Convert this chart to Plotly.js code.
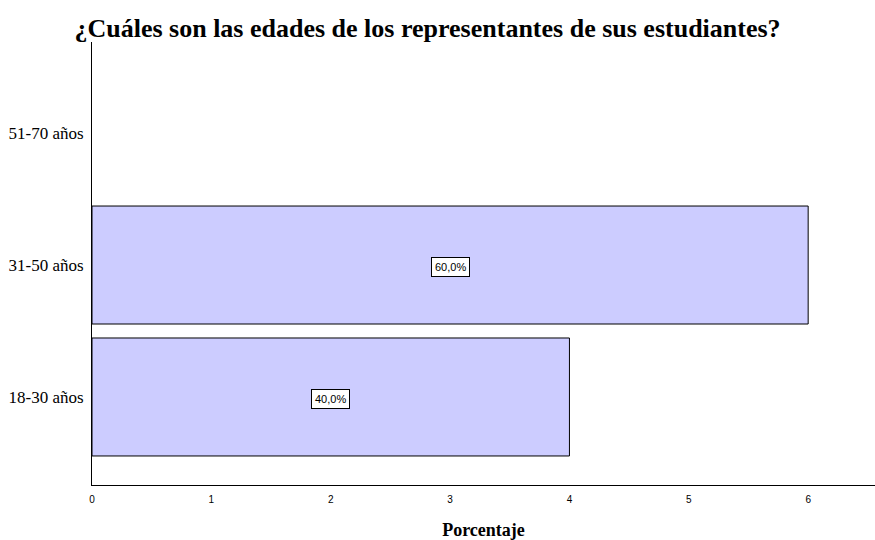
<!DOCTYPE html>
<html><head><meta charset="utf-8">
<script src="https://cdn.plot.ly/plotly-3.0.1.min.js"></script>
<style>body{margin:0;background:#fff}</style>
</head><body><div id="chart" style="width:875px;height:540px"></div>
<script>
const categories = ['18-30 años', '31-50 años', '51-70 años'];
const counts = [4, 6, 0];
const percentLabels = ['40,0%', '60,0%', ''];
const xTicks = [0, 1, 2, 3, 4, 5, 6];

const trace = {
  type: 'bar', orientation: 'h',
  y: categories, x: counts,
  width: 0.894,
  marker: {color: '#ccccff', line: {color: '#000', width: counts.map(v => v > 0 ? 1 : 0)}},
  hoverinfo: 'none'
};
const annotations = categories.map((c, i) => percentLabels[i] ? {
  x: counts[i] / 2, y: c, xref: 'x', yref: 'y', yshift: -2,
  text: percentLabels[i], showarrow: false,
  font: {family: 'Liberation Sans, Arial', size: 11, color: '#000'},
  bgcolor: '#fff', bordercolor: '#000', borderwidth: 1, borderpad: 3
} : null).filter(a => a);

const layout = {
  width: 875, height: 540,
  margin: {l: 92, r: 0, t: 42, b: 55},
  paper_bgcolor: '#fff', plot_bgcolor: '#fff',
  showlegend: false,
  title: {text: '<b>¿Cuáles son las edades de los representantes de sus estudiantes?</b>',
    font: {family: 'Liberation Serif, Times New Roman', size: 26, color: '#000'},
    x: 0.4886, xanchor: 'center', y: 0.948, yanchor: 'middle'},
  xaxis: {range: [0, 6.56], tickvals: xTicks, ticktext: xTicks.map(String),
    showgrid: false, zeroline: false, showline: true, linecolor: '#000', linewidth: 1,
    ticks: '', ticklabelstandoff: 5,
    tickfont: {family: 'Liberation Sans, Arial', size: 10, color: '#000'},
    title: {text: '<b>Porcentaje</b>', font: {family: 'Liberation Serif, Times New Roman', size: 18, color: '#000'}, standoff: 19}},
  yaxis: {range: [-0.667, 2.69], type: 'category',
    showgrid: false, zeroline: false, showline: true, linecolor: '#000', linewidth: 1,
    ticks: '', ticklabelstandoff: 4,
    tickfont: {family: 'Liberation Serif, Times New Roman', size: 17, color: '#000'}},
  annotations: annotations
};
Plotly.newPlot('chart', [trace], layout, {displayModeBar: false, staticPlot: true});
</script></body></html>
